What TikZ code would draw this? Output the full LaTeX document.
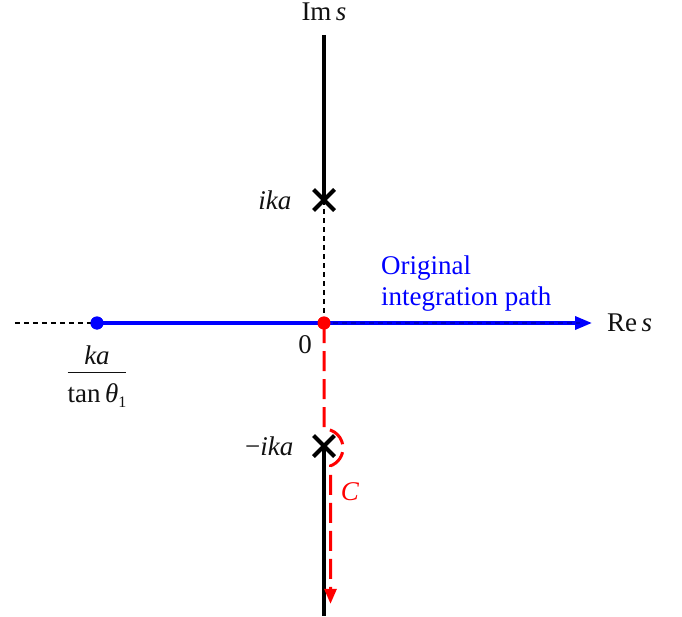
\documentclass[tikz,border=0pt]{standalone}
\usepackage{fontspec}
\setmainfont{Liberation Serif}
\usetikzlibrary{positioning,arrows.meta,calc,shapes.misc}
\definecolor{pathblue}{RGB}{0,0,255}
\definecolor{cred}{RGB}{255,0,0}
\definecolor{ink}{RGB}{17,17,17}
\tikzset{
  lbl/.style={font=\fontsize{27}{31}\selectfont, inner sep=0pt, text=ink, align=left},
  cut/.style={line width=4pt, draw=black},
  guide/.style={line width=1.4pt, dash pattern=on 5pt off 4pt, draw=black},
  pole/.style={cross out, draw=black, line width=4pt, minimum size=17pt, inner sep=0pt},
  dot/.style={circle, inner sep=0pt, minimum size=13pt},
  orig/.style={line width=3.5pt, draw=pathblue, -{Triangle[length=17pt,width=13pt]}},
  cpath/.style={line width=3pt, draw=cred, dash pattern=on 20pt off 8pt,
                -{Triangle[length=15pt,width=12pt]}},
}

\begin{document}
\begin{tikzpicture}[x=1pt, y=1pt]
  \useasboundingbox (-324,-293) rectangle (358,323);

  % ---- axes and poles -----------------------------------------------
  \coordinate (imtop) at (0,288);
  \coordinate (imbot) at (0,-293);
  \coordinate (releft) at (-309,0);
  \coordinate (reright) at (268,0);
  \node[pole] (pplus) at (0,123) {};
  \node[pole] (pminus) at (0,-123) {};
  \node[dot, fill=pathblue] (kd) at (-227,0) {};
  \node[dot, fill=cred] (orig) at (0,0) {};

  \draw[cut] (imtop) -- (pplus.center);
  \draw[cut] (pminus.center) -- (imbot);
  \draw[guide] (pplus.center) -- (orig.center);
  \draw[guide] (releft) -- (kd.center);

  % ---- original path and contour C ----------------------------------
  \draw[orig] (kd.center) -- (reright);
  \draw[guide, draw=black, opacity=0.25] (orig.center) -- ($(reright)+(-12,0)$);
  \draw[cpath] (orig.center) -- ++(0,-106) arc[start angle=90, end angle=-70, radius=19]
    -- ++(0,-138);
  \node[dot, fill=cred] at (orig) {};
  \node[dot, fill=pathblue] at (kd) {};

  % ---- labels -------------------------------------------------------
  \node[lbl] (imlbl) at (0,311) {Im\,\textit{s}};
  \node[lbl, right=15pt of reright] (relbl) {Re\,\textit{s}};
  \node[lbl, left=22pt of pplus] (ikalbl) {\textit{ika}};
  \node[lbl, left=20pt of pminus] (mikalbl) {−\textit{ika}};
  \node[lbl] (zero) at (-19,-22) {0};
  \node[lbl, text=cred] (clbl) at (26,-169) {\textit{C}};
  \node[lbl, text=pathblue, anchor=north west] (origlbl) at (57,67)
    {Original\\ integration path};
  \node[lbl, align=center] (frac) at (-227,-54)
    {\begin{tabular}{@{}c@{}}\textit{ka}\\[-2pt]\hline\rule{0pt}{30pt}tan\,\textit{θ}\raisebox{-5pt}{\fontsize{16}{16}\selectfont 1}\end{tabular}};
\end{tikzpicture}
\end{document}
